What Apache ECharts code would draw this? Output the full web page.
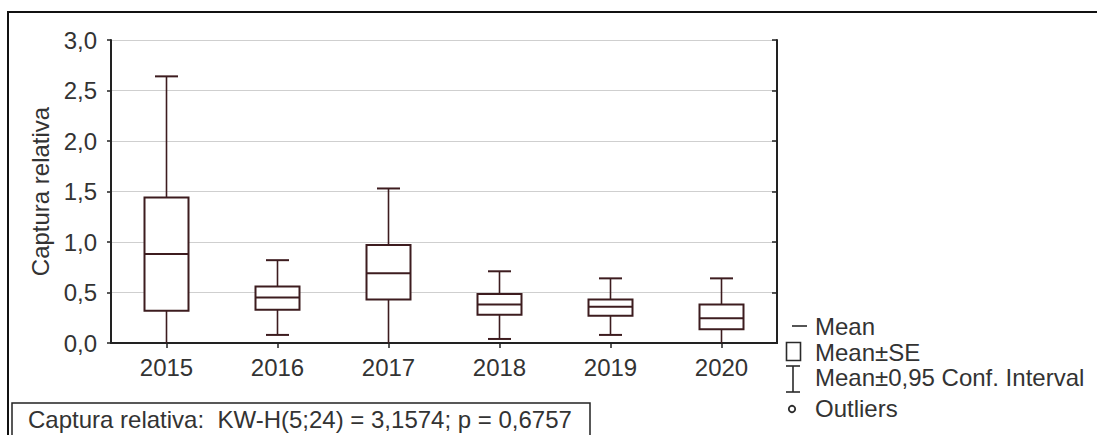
<!DOCTYPE html>
<html>
<head>
<meta charset="utf-8">
<script src="https://cdn.jsdelivr.net/npm/echarts@6/dist/echarts.min.js"></script>
<style>
  html, body { margin: 0; padding: 0; background: #fff; }
  #chart { width: 1097px; height: 435px; }
</style>
</head>
<body>
<div id="chart"></div>
<script>
// data
var years = ['2015', '2016', '2017', '2018', '2019', '2020'];
var means = [0.88, 0.45, 0.69, 0.38, 0.36, 0.245];
var seLow = [0.32, 0.33, 0.43, 0.28, 0.27, 0.135];
var seHigh = [1.44, 0.56, 0.97, 0.485, 0.43, 0.38];
var ciLow = [-0.88, 0.08, -0.15, 0.04, 0.08, -0.15];
var ciHigh = [2.64, 0.82, 1.53, 0.71, 0.64, 0.64];
var yTicks = ['0,0', '0,5', '1,0', '1,5', '2,0', '2,5', '3,0'];

var boxColor = '#3d1c1f';
var font = '"Liberation Sans", Arial, sans-serif';

var chartDom = document.getElementById('chart');
var myChart = echarts.init(chartDom, null, { renderer: 'svg' });

var seriesData = [];
for (let i = 0; i < years.length; i = i + 1) {
  seriesData.push([i, means[i], seLow[i], seHigh[i], ciLow[i], ciHigh[i]]);
}

function renderBox(params, api) {
  var x = api.value(0);
  var pMean = api.coord([x, api.value(1)]);
  var pSeLo = api.coord([x, api.value(2)]);
  var pSeHi = api.coord([x, api.value(3)]);
  var pCiLo = api.coord([x, api.value(4)]);
  var pCiHi = api.coord([x, api.value(5)]);
  var halfBox = 22;
  var halfCap = 11.5;
  var cx = pMean[0];
  var thin = { stroke: boxColor, lineWidth: 1.6, fill: null };
  var thick = { stroke: boxColor, lineWidth: 2, fill: null };
  return {
    type: 'group',
    children: [
      { type: 'line', shape: { x1: cx, y1: pSeHi[1], x2: cx, y2: pCiHi[1] }, style: thin },
      { type: 'line', shape: { x1: cx, y1: pSeLo[1], x2: cx, y2: pCiLo[1] }, style: thin },
      { type: 'line', shape: { x1: cx - halfCap, y1: pCiHi[1], x2: cx + halfCap, y2: pCiHi[1] }, style: thick },
      { type: 'line', shape: { x1: cx - halfCap, y1: pCiLo[1], x2: cx + halfCap, y2: pCiLo[1] }, style: thick },
      { type: 'rect', shape: { x: cx - halfBox, y: pSeHi[1], width: halfBox * 2, height: pSeLo[1] - pSeHi[1] },
        style: { stroke: boxColor, lineWidth: 2, fill: '#fff' } },
      { type: 'line', shape: { x1: cx - halfBox, y1: pMean[1], x2: cx + halfBox, y2: pMean[1] }, style: thick }
    ]
  };
}

// legend drawn by hand, rows centred at these y's
var legendItems = ['Mean', 'Mean±SE', 'Mean±0,95 Conf. Interval', 'Outliers'];
var legendRows = [326, 352, 377, 408];
var legendGraphics = [];
for (let i = 0; i < legendItems.length; i = i + 1) {
  legendGraphics.push({
    type: 'text', x: 815, y: legendRows[i],
    style: { text: legendItems[i], font: '24px ' + font, fill: '#333', verticalAlign: 'middle' }
  });
}
var symStyle = { stroke: '#2a2a2a', lineWidth: 1.6, fill: null };
legendGraphics.push(
  { type: 'line', shape: { x1: 792, y1: 326, x2: 807, y2: 326 }, style: symStyle },
  { type: 'rect', shape: { x: 786.5, y: 342.5, width: 14, height: 18 }, style: symStyle },
  { type: 'line', shape: { x1: 793, y1: 366, x2: 793, y2: 392 }, style: symStyle },
  { type: 'line', shape: { x1: 786, y1: 366, x2: 800, y2: 366 }, style: symStyle },
  { type: 'line', shape: { x1: 786, y1: 392, x2: 800, y2: 392 }, style: symStyle },
  { type: 'circle', shape: { cx: 792, cy: 409, r: 3.2 }, style: { stroke: '#2a2a2a', lineWidth: 1.8, fill: null } }
);

var option = {
  backgroundColor: '#fff',
  animation: false,
  grid: { left: 111, right: 320, top: 40, bottom: 92 },
  xAxis: [
    {
      type: 'category', data: years, position: 'bottom',
      axisLine: { lineStyle: { color: '#222', width: 2 } },
      axisTick: { show: false },
      axisLabel: { color: '#333', fontSize: 24, fontFamily: font, margin: 12 }
    },
    {
      type: 'category', data: years, position: 'top',
      axisLine: { lineStyle: { color: '#222', width: 2 } },
      axisTick: { show: true, inside: true, alignWithLabel: true, length: 5, lineStyle: { color: '#222', width: 1.5 } },
      axisLabel: { show: false }
    }
  ],
  yAxis: [
    {
      type: 'value', min: 0, max: 3, interval: 0.5, position: 'left',
      name: 'Captura relativa', nameLocation: 'middle', nameGap: 59, nameRotate: 90,
      nameTextStyle: { color: '#333', fontSize: 24, fontFamily: font },
      axisLine: { show: true, lineStyle: { color: '#222', width: 2 } },
      axisTick: { show: true, length: 4, lineStyle: { color: '#222', width: 1.5 } },
      axisLabel: {
        color: '#333', fontSize: 24, fontFamily: font, margin: 14,
        formatter: function (v) { return yTicks[Math.round(v * 2)]; }
      },
      splitLine: { show: true, lineStyle: { color: '#cfcfcf', width: 1.2 } }
    },
    {
      type: 'value', min: 0, max: 3, interval: 0.5, position: 'right',
      axisLine: { show: true, lineStyle: { color: '#222', width: 2 } },
      axisTick: { show: true, inside: true, length: 5, lineStyle: { color: '#222', width: 1.5 } },
      axisLabel: { show: false },
      splitLine: { show: false }
    }
  ],
  series: [
    {
      type: 'custom',
      clip: true,
      xAxisIndex: 0,
      yAxisIndex: 0,
      renderItem: renderBox,
      encode: { x: 0, y: [1, 2, 3, 4, 5] },
      data: seriesData
    }
  ],
  graphic: [
    // outer frame
    { type: 'rect', shape: { x: 8, y: 12, width: 1200, height: 500 }, style: { stroke: '#111', lineWidth: 2, fill: null }, z: 100 },
    // statistics box
    { type: 'rect', shape: { x: 12, y: 403, width: 578, height: 60 }, style: { stroke: '#222', lineWidth: 1.5, fill: null }, z: 100 },
    {
      type: 'text', x: 28, y: 419, z: 100,
      style: { text: 'Captura relativa:  KW-H(5;24) = 3,1574; p = 0,6757', font: '24px ' + font, fill: '#333', verticalAlign: 'middle' }
    }
  ].concat(legendGraphics)
};

option && myChart.setOption(option);
</script>
</body>
</html>
